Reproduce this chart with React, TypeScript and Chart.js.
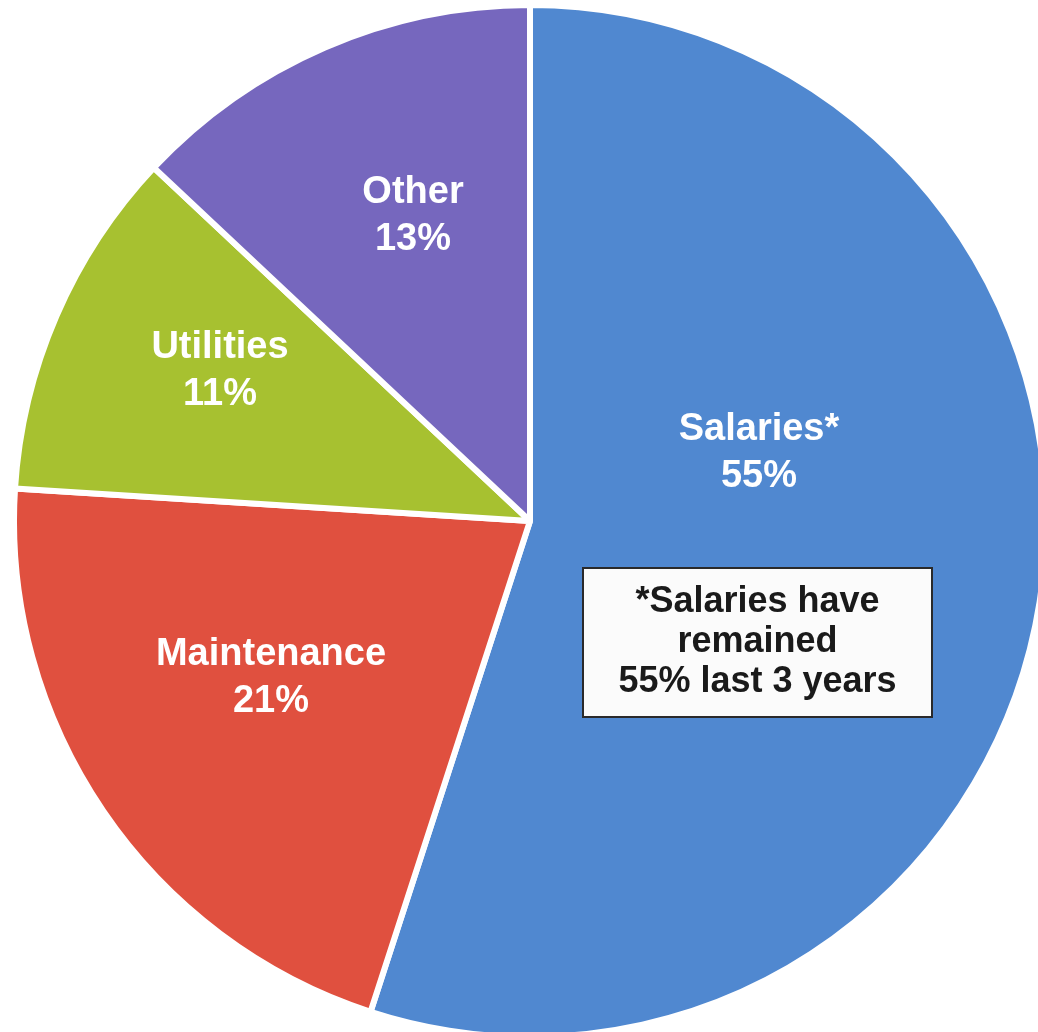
import React, { useEffect, useRef } from "react";
import { Chart, registerables } from "chart.js";

Chart.register(...registerables);

const categories = ["Salaries*", "Maintenance", "Utilities", "Other"];
const shares = [55, 21, 11, 13];
const sliceColors = ["#5088d0", "#e0503f", "#a7c130", "#7667be"];
const noteLines = ["*Salaries have", "remained", "55% last 3 years"];

const FONT = '"Liberation Sans", Arial, Helvetica, sans-serif';

const labelPlugin = {
  id: "sliceLabels",
  afterDatasetsDraw(chart: any, _args: any, opts: any) {
    const meta = chart.getDatasetMeta(0);
    const first = meta.data[0];
    if (!first) return;
    const cx = first.x;
    const cy = first.y;
    const k = first.outerRadius / 516;
    const ctx = chart.ctx;
    ctx.save();
    ctx.textAlign = "center";
    ctx.textBaseline = "alphabetic";
    ctx.fillStyle = "#ffffff";
    ctx.font = `bold ${opts.fontSize}px ${FONT}`;
    categories.forEach((name, i) => {
      const [ox, oy] = opts.offsets[i];
      const bx = cx + ox * k;
      const by = cy + oy * k;
      ctx.fillText(name, bx, by - 11);
      ctx.fillText(`${shares[i]}%`, bx, by + 36);
    });
    // note box
    const b = opts.box;
    const x0 = cx + b.left * k;
    const y0 = cy + b.top * k;
    const w = b.width * k;
    const h = b.height * k;
    ctx.fillStyle = "#fbfbfb";
    ctx.fillRect(x0, y0, w, h);
    ctx.strokeStyle = "#2a2a2a";
    ctx.lineWidth = 2;
    ctx.strokeRect(x0, y0, w, h);
    ctx.fillStyle = "#1a1a1a";
    ctx.font = `bold ${opts.noteSize}px ${FONT}`;
    noteLines.forEach((line, i) => {
      ctx.fillText(line, x0 + w / 2, y0 + (44 + i * 40) * k);
    });
    ctx.restore();
  },
};

export default function App() {
  const ref = useRef<HTMLCanvasElement | null>(null);
  useEffect(() => {
    if (!ref.current) return;
    const chart = new Chart(ref.current, {
      type: "pie",
      data: {
        labels: categories,
        datasets: [
          {
            data: shares,
            backgroundColor: sliceColors,
            borderColor: "#ffffff",
            borderWidth: 6,
          },
        ],
      },
      options: {
        animation: false,
        responsive: true,
        maintainAspectRatio: false,
        layout: { padding: 0 },
        plugins: {
          legend: { display: false },
          tooltip: { enabled: false },
          sliceLabels: {
            fontSize: 38,
            noteSize: 36,
            offsets: [
              [229, -70],
              [-259, 155],
              [-310, -152],
              [-117, -307],
            ],
            box: { left: 53, top: 47, width: 349, height: 149 },
          },
        } as any,
      },
      plugins: [labelPlugin],
    });
    return () => chart.destroy();
  }, []);

  return (
    <div
      style={{
        position: "fixed",
        left: 0,
        top: 0,
        width: 1038,
        height: 1032,
        overflow: "hidden",
        background: "#ffffff",
      }}
    >
      <div
        style={{
          position: "absolute",
          left: 11,
          top: 2,
          width: 1038,
          height: 1038,
        }}
      >
        <canvas ref={ref} />
      </div>
    </div>
  );
}
